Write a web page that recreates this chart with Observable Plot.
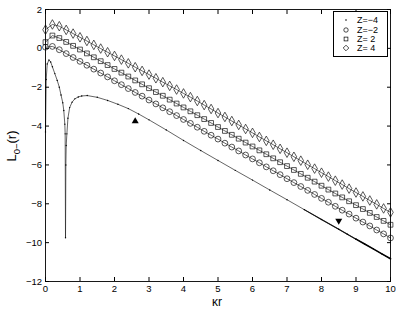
<!DOCTYPE html>
<html>
<head>
<meta charset="utf-8">
<script src="https://cdn.jsdelivr.net/npm/d3@7"></script>
<script src="https://cdn.jsdelivr.net/npm/@observablehq/plot@0.6"></script>
<style>
  body { margin: 0; background: #fff; }
  #wrap { position: relative; width: 399px; height: 310px; font-family: "Liberation Sans", Arial, sans-serif; }
  #ylab { position: absolute; left: 13px; top: 146px; transform: translate(-50%, -50%) rotate(-90deg); white-space: nowrap; font-size: 13px; color: #000; }
  #ylab sub { font-size: 9.5px; }
  #xlab { position: absolute; left: 217px; top: 302px; transform: translate(-50%, -50%); font-size: 12px; color: #000; white-space: nowrap; }
  #legend { position: absolute; left: 333px; top: 11px; width: 55px; height: 46px; border: 0.8px solid #000; background: #fff; font-size: 9px; box-sizing: border-box; }
  .row { position: absolute; left: 0; height: 10px; line-height: 10px; }
  .row svg { position: absolute; left: 7px; top: 0; }
  .row span { position: absolute; left: 23px; top: 0; white-space: nowrap; }
</style>
</head>
<body>
<div id="wrap">
  <div id="chart"></div>
  <div id="ylab">L<sub>0−</sub>(r)</div>
  <div id="xlab">κr</div>
  <div id="legend"></div>
</div>
<script>
// Marker x positions (κr) shared by Z = -2, 2, 4
const xMarkers = [0,0.2,0.4,0.6,0.8,1.0,1.2,1.4,1.6,1.8,2.0,2.2,2.4,2.6,2.8,3.0,3.2,3.4,3.6,3.8,4.0,4.2,4.4,4.6,4.8,5.0,5.2,5.4,5.6,5.8,6.0,6.2,6.4,6.6,6.8,7.0,7.2,7.4,7.6,7.8,8.0,8.2,8.4,8.6,8.8,9.0,9.2,9.4,9.6,9.8,10.0];
// Z = 4 (diamonds)
const zPlus4 = [0.96,1.23,1.14,0.95,0.76,0.57,0.38,0.18,-0.01,-0.20,-0.39,-0.58,-0.77,-0.97,-1.16,-1.35,-1.54,-1.74,-1.93,-2.12,-2.32,-2.51,-2.71,-2.92,-3.12,-3.33,-3.53,-3.74,-3.94,-4.15,-4.35,-4.56,-4.76,-4.96,-5.17,-5.37,-5.58,-5.78,-5.99,-6.19,-6.40,-6.60,-6.81,-7.01,-7.22,-7.42,-7.62,-7.83,-8.03,-8.24,-8.44];
// Z = 2 (squares)
const zPlus2 = [0.32,0.66,0.53,0.33,0.13,-0.06,-0.26,-0.46,-0.66,-0.86,-1.06,-1.25,-1.45,-1.65,-1.85,-2.05,-2.25,-2.44,-2.64,-2.84,-3.04,-3.24,-3.44,-3.64,-3.84,-4.05,-4.25,-4.45,-4.65,-4.85,-5.05,-5.25,-5.45,-5.66,-5.86,-6.06,-6.26,-6.46,-6.66,-6.86,-7.07,-7.27,-7.47,-7.67,-7.87,-8.07,-8.27,-8.47,-8.68,-8.88,-9.08];
// Z = -2 (circles)
const zMinus2 = [0.06,0.10,-0.07,-0.27,-0.47,-0.67,-0.87,-1.07,-1.27,-1.47,-1.67,-1.87,-2.07,-2.27,-2.46,-2.66,-2.86,-3.06,-3.26,-3.46,-3.66,-3.86,-4.06,-4.27,-4.47,-4.67,-4.88,-5.08,-5.28,-5.49,-5.69,-5.89,-6.10,-6.30,-6.50,-6.71,-6.91,-7.11,-7.31,-7.52,-7.72,-7.92,-8.13,-8.33,-8.53,-8.74,-8.94,-9.14,-9.35,-9.55,-9.76];
// Z = -4 (dotted line)
const xMinus4 = [0,0.02,0.05,0.1,0.15,0.2,0.27,0.34,0.4,0.45,0.5,0.53,0.56,0.57,0.58,0.59,0.6,0.62,0.65,0.7,0.77,0.85,0.95,1.05,1.21,1.5,1.8,2.1,2.4,2.7,3.0,3.5,4.0,4.5,5.0,5.5,6.0,6.5,7.0,7.5,8.0,8.5,8.75,9.0,9.25,9.5,9.75,10.0];
const zMinus4 = [-4.3,-1.6,-0.8,-0.6,-0.7,-0.95,-1.3,-1.65,-2.0,-2.4,-2.8,-3.2,-3.9,-4.4,-9.75,-6.0,-5.0,-4.4,-3.6,-3.05,-2.77,-2.6,-2.5,-2.45,-2.43,-2.52,-2.68,-2.88,-3.1,-3.38,-3.68,-4.2,-4.74,-5.26,-5.77,-6.28,-6.78,-7.29,-7.79,-8.3,-8.81,-9.31,-9.57,-9.82,-10.07,-10.32,-10.58,-10.83];
// Triangle markers
const triUp = {x: [2.6], y: [-3.75]};
const triDown = {x: [8.5], y: [-8.87]};
// Ticks
const xTicks = [0,1,2,3,4,5,6,7,8,9,10];
const yTicks = [2,0,-2,-4,-6,-8,-10,-12];
const legendLabels = ["Z=−4", "Z=−2", "Z= 2", "Z= 4"];

const toRows = (xs, ys) => xs.map((x, i) => ({x, y: ys[i]}));
const d4 = toRows(xMarkers, zPlus4);
const d2 = toRows(xMarkers, zPlus2);
const dm2 = toRows(xMarkers, zMinus2);
const dm4 = toRows(xMinus4, zMinus4);
const up = toRows(triUp.x, triUp.y);
const down = toRows(triDown.x, triDown.y);
// progressively thicker tail of the Z=-4 curve (dense markers at large κr)
const dm4TailA = dm4.filter(d => d.x >= 7.5 && d.x <= 9);
const dm4TailB = dm4.filter(d => d.x >= 9);

const lineStyle = {x: "x", y: "y", stroke: "#222", strokeWidth: 0.7};
const fmt = d => d < 0 ? "−" + Math.abs(d) : String(d);

const plot = Plot.plot({
  width: 399,
  height: 310,
  marginLeft: 45,
  marginRight: 9,
  marginTop: 9,
  marginBottom: 29,
  style: {fontFamily: "Liberation Sans, Arial, sans-serif", fontSize: "9.5px", background: "#fff", color: "#000"},
  x: {domain: [0, 10]},
  y: {domain: [-12, 2]},
  marks: [
    Plot.line(dm4, lineStyle),
    Plot.line(dm4TailA, {x: "x", y: "y", stroke: "#111", strokeWidth: 1.1}),
    Plot.line(dm4TailB, {x: "x", y: "y", stroke: "#000", strokeWidth: 1.6}),
    Plot.dot(dm4, {x: "x", y: "y", r: 0.7, fill: "#000"}),
    Plot.line(dm2, lineStyle),
    Plot.dot(dm2, {x: "x", y: "y", r: 2.9, stroke: "#111", strokeWidth: 0.7, fill: "none"}),
    Plot.line(d2, lineStyle),
    Plot.dot(d2, {x: "x", y: "y", r: 2.7, symbol: "square", stroke: "#111", strokeWidth: 0.7, fill: "none"}),
    Plot.line(d4, lineStyle),
    Plot.dot(d4, {x: "x", y: "y", r: 2.9, symbol: "diamond", stroke: "#111", strokeWidth: 0.7, fill: "none"}),
    Plot.dot(up, {x: "x", y: "y", r: 2.6, symbol: "triangle", fill: "#000"}),
    Plot.dot(down, {x: "x", y: "y", r: 2.6, symbol: "triangle", fill: "#000", rotate: 180}),
    Plot.axisX({anchor: "bottom", ticks: xTicks, tickSize: -4, tickPadding: 8, tickFormat: fmt, label: null}),
    Plot.axisX({anchor: "top", ticks: xTicks, tickSize: -4, tickFormat: () => "", label: null}),
    Plot.axisY({anchor: "left", ticks: yTicks, tickSize: -4, tickPadding: 7.5, tickFormat: fmt, label: null}),
    Plot.axisY({anchor: "right", ticks: yTicks, tickSize: -4, tickFormat: () => "", label: null}),
    Plot.frame({stroke: "#000", strokeWidth: 0.9})
  ]
});
document.getElementById("chart").appendChild(plot);

// Legend
const legend = document.getElementById("legend");
const symbols = ["dot", "circle", "square", "diamond"];
const tops = [3, 13, 21.5, 31];
legendLabels.forEach((lab, i) => {
  const row = document.createElement("div");
  row.className = "row";
  row.style.top = tops[i] + "px";
  let shape = "";
  if (symbols[i] === "dot") shape = '<circle cx="5" cy="5" r="0.8" fill="#000"/>';
  if (symbols[i] === "circle") shape = '<circle cx="5" cy="5" r="2.2" fill="none" stroke="#000" stroke-width="0.7"/>';
  if (symbols[i] === "square") shape = '<rect x="3.1" y="3.1" width="3.8" height="3.8" fill="none" stroke="#000" stroke-width="0.7"/>';
  if (symbols[i] === "diamond") shape = '<path d="M5,2.2L7.8,5L5,7.8L2.2,5Z" fill="none" stroke="#000" stroke-width="0.7"/>';
  row.innerHTML = '<svg width="10" height="10">' + shape + '</svg><span>' + lab + '</span>';
  legend.appendChild(row);
});
</script>
</body>
</html>
